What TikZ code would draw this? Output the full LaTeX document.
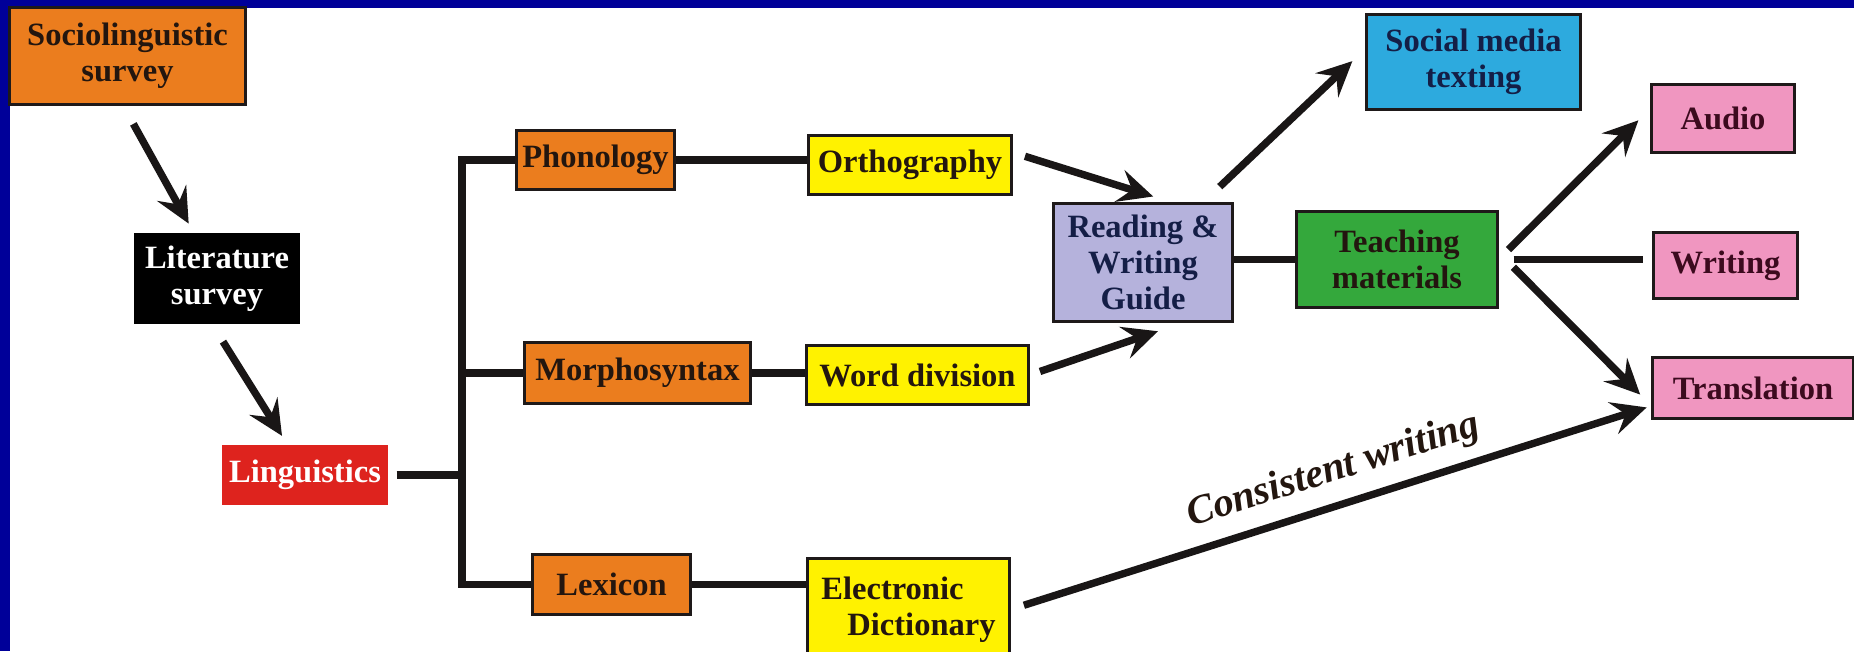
\documentclass[tikz,border=0pt]{standalone}
\usepackage{fontspec}
\setmainfont{Liberation Serif}
\usetikzlibrary{arrows.meta}
\definecolor{navy}{RGB}{0,0,153}
\definecolor{orangebox}{RGB}{235,125,30}
\definecolor{redbox}{RGB}{222,35,30}
\definecolor{yellowbox}{RGB}{255,242,0}
\definecolor{lavbox}{RGB}{181,178,220}
\definecolor{greenbox}{RGB}{52,168,60}
\definecolor{cyanbox}{RGB}{45,170,222}
\definecolor{pinkbox}{RGB}{240,150,192}
\definecolor{boxline}{RGB}{30,25,25}
\definecolor{linkcol}{RGB}{25,22,22}
\definecolor{textdark}{RGB}{35,22,15}
\definecolor{textnavy}{RGB}{20,30,70}
\definecolor{textmaroon}{RGB}{60,10,30}
\newcommand\boxfont{\fontsize{9.25}{10.2}\selectfont\bfseries}
\tikzset{
box/.style=
    {rectangle,
    draw=boxline,
    line width=0.85pt,
    align=center,
    inner sep=0pt,
    text=textdark,
    font=\boxfont
    },
link/.style=
    {draw=linkcol,
    line width=2.1pt
    },
flow/.style=
    {link,
    -{Stealth[length=3.5mm,width=3.3mm,inset=1.3mm]}
    }}

\begin{document}
\begin{tikzpicture}[x=0.01cm,y=-0.01cm]
\clip (0,0) rectangle (1854,651);
\fill[navy] (0,0) rectangle (1854,651);
\fill[white] (10,8) rectangle (1854,651);

\node[box,fill=orangebox,minimum width=2.35cm,minimum height=0.96cm] (socio) at (127.5,56) {Sociolinguistic\\survey};
\node[box,fill=black,draw=none,text=white,minimum width=1.66cm,minimum height=0.91cm] (litsurvey) at (217,278.5) {Literature\\survey};
\node[box,fill=redbox,draw=none,text=white,minimum width=1.66cm,minimum height=0.60cm] (ling) at (305,475) {Linguistics};

\node[box,fill=orangebox,minimum width=1.57cm,minimum height=0.58cm] (phon) at (595.5,160) {Phonology};
\node[box,fill=orangebox,minimum width=2.25cm,minimum height=0.60cm] (morph) at (637.5,373) {Morphosyntax};
\node[box,fill=orangebox,minimum width=1.57cm,minimum height=0.59cm] (lex) at (611.5,584.5) {Lexicon};

\node[box,fill=yellowbox,minimum width=2.02cm,minimum height=0.58cm] (ortho) at (910,165) {Orthography};
\node[box,fill=yellowbox,minimum width=2.21cm,minimum height=0.58cm] (worddiv) at (917.5,375) {Word division};
\node[box,fill=yellowbox,align=left,minimum width=2.01cm,minimum height=1.01cm] (edict) at (908.5,609.5) {Electronic\\\hspace*{0.8em}Dictionary};

\node[box,fill=lavbox,text=textnavy,minimum width=1.78cm,minimum height=1.17cm] (rwg) at (1143,262.5) {Reading \&\\Writing\\Guide};
\node[box,fill=greenbox,minimum width=2.00cm,minimum height=0.95cm] (teach) at (1397,259.5) {Teaching\\materials};
\node[box,fill=cyanbox,text=textnavy,minimum width=2.13cm,minimum height=0.94cm] (social) at (1473.5,62) {Social media\\texting};

\node[box,fill=pinkbox,text=textmaroon,minimum width=1.42cm,minimum height=0.67cm] (audio) at (1723,118.5) {Audio};
\node[box,fill=pinkbox,text=textmaroon,minimum width=1.43cm,minimum height=0.65cm] (writing) at (1725.5,265.5) {Writing};
\node[box,fill=pinkbox,text=textmaroon,minimum width=2.00cm,minimum height=0.60cm] (transl) at (1753,388) {Translation};

\coordinate (fork) at (462,475);

\draw[flow,shorten <=2.1mm,shorten >=0.9mm] (socio.265) -- (litsurvey.117);
\draw[flow,shorten <=1.9mm,shorten >=0.9mm] (litsurvey.265) -- (ling.120);

\draw[link,shorten <=0.7mm] (ling) -- (fork);
\draw[link] (phon.west) -| (fork) |- (lex.west);
\draw[link] (fork |- morph) -- (morph);

\draw[link] (phon) -- (phon -| ortho.west);
\draw[link] (morph) -- (morph -| worddiv.west);
\draw[link] (lex) -- (lex -| edict.west);

\draw[flow,shorten <=1.3mm,shorten >=2mm] (ortho.7) -- (rwg.64);
\draw[flow,shorten <=1.1mm,shorten >=2.7mm] (worddiv.east) -- (rwg.-56);
\draw[link] (teach -| rwg.east) -- (teach);
\draw[flow,shorten <=2.3mm,shorten >=1.8mm] (rwg.45) -- (social.173);

\draw[flow,shorten <=1.4mm,shorten >=1.7mm] (teach.east) -- (audio.172);
\draw[link,shorten <=1.5mm,shorten >=0.9mm] (teach) -- (teach -| writing.west);
\draw[flow,shorten <=2.1mm,shorten >=1.6mm] (teach.4) -- (transl.-170);

\draw[flow,shorten <=1.4mm,shorten >=0.5mm] (edict.east) -- (transl.-170)
    node[pos=0.52,sloped,above,font=\fontsize{11.5}{12}\selectfont\bfseries\itshape,text=textdark] {Consistent writing};

\end{tikzpicture}
\end{document}
